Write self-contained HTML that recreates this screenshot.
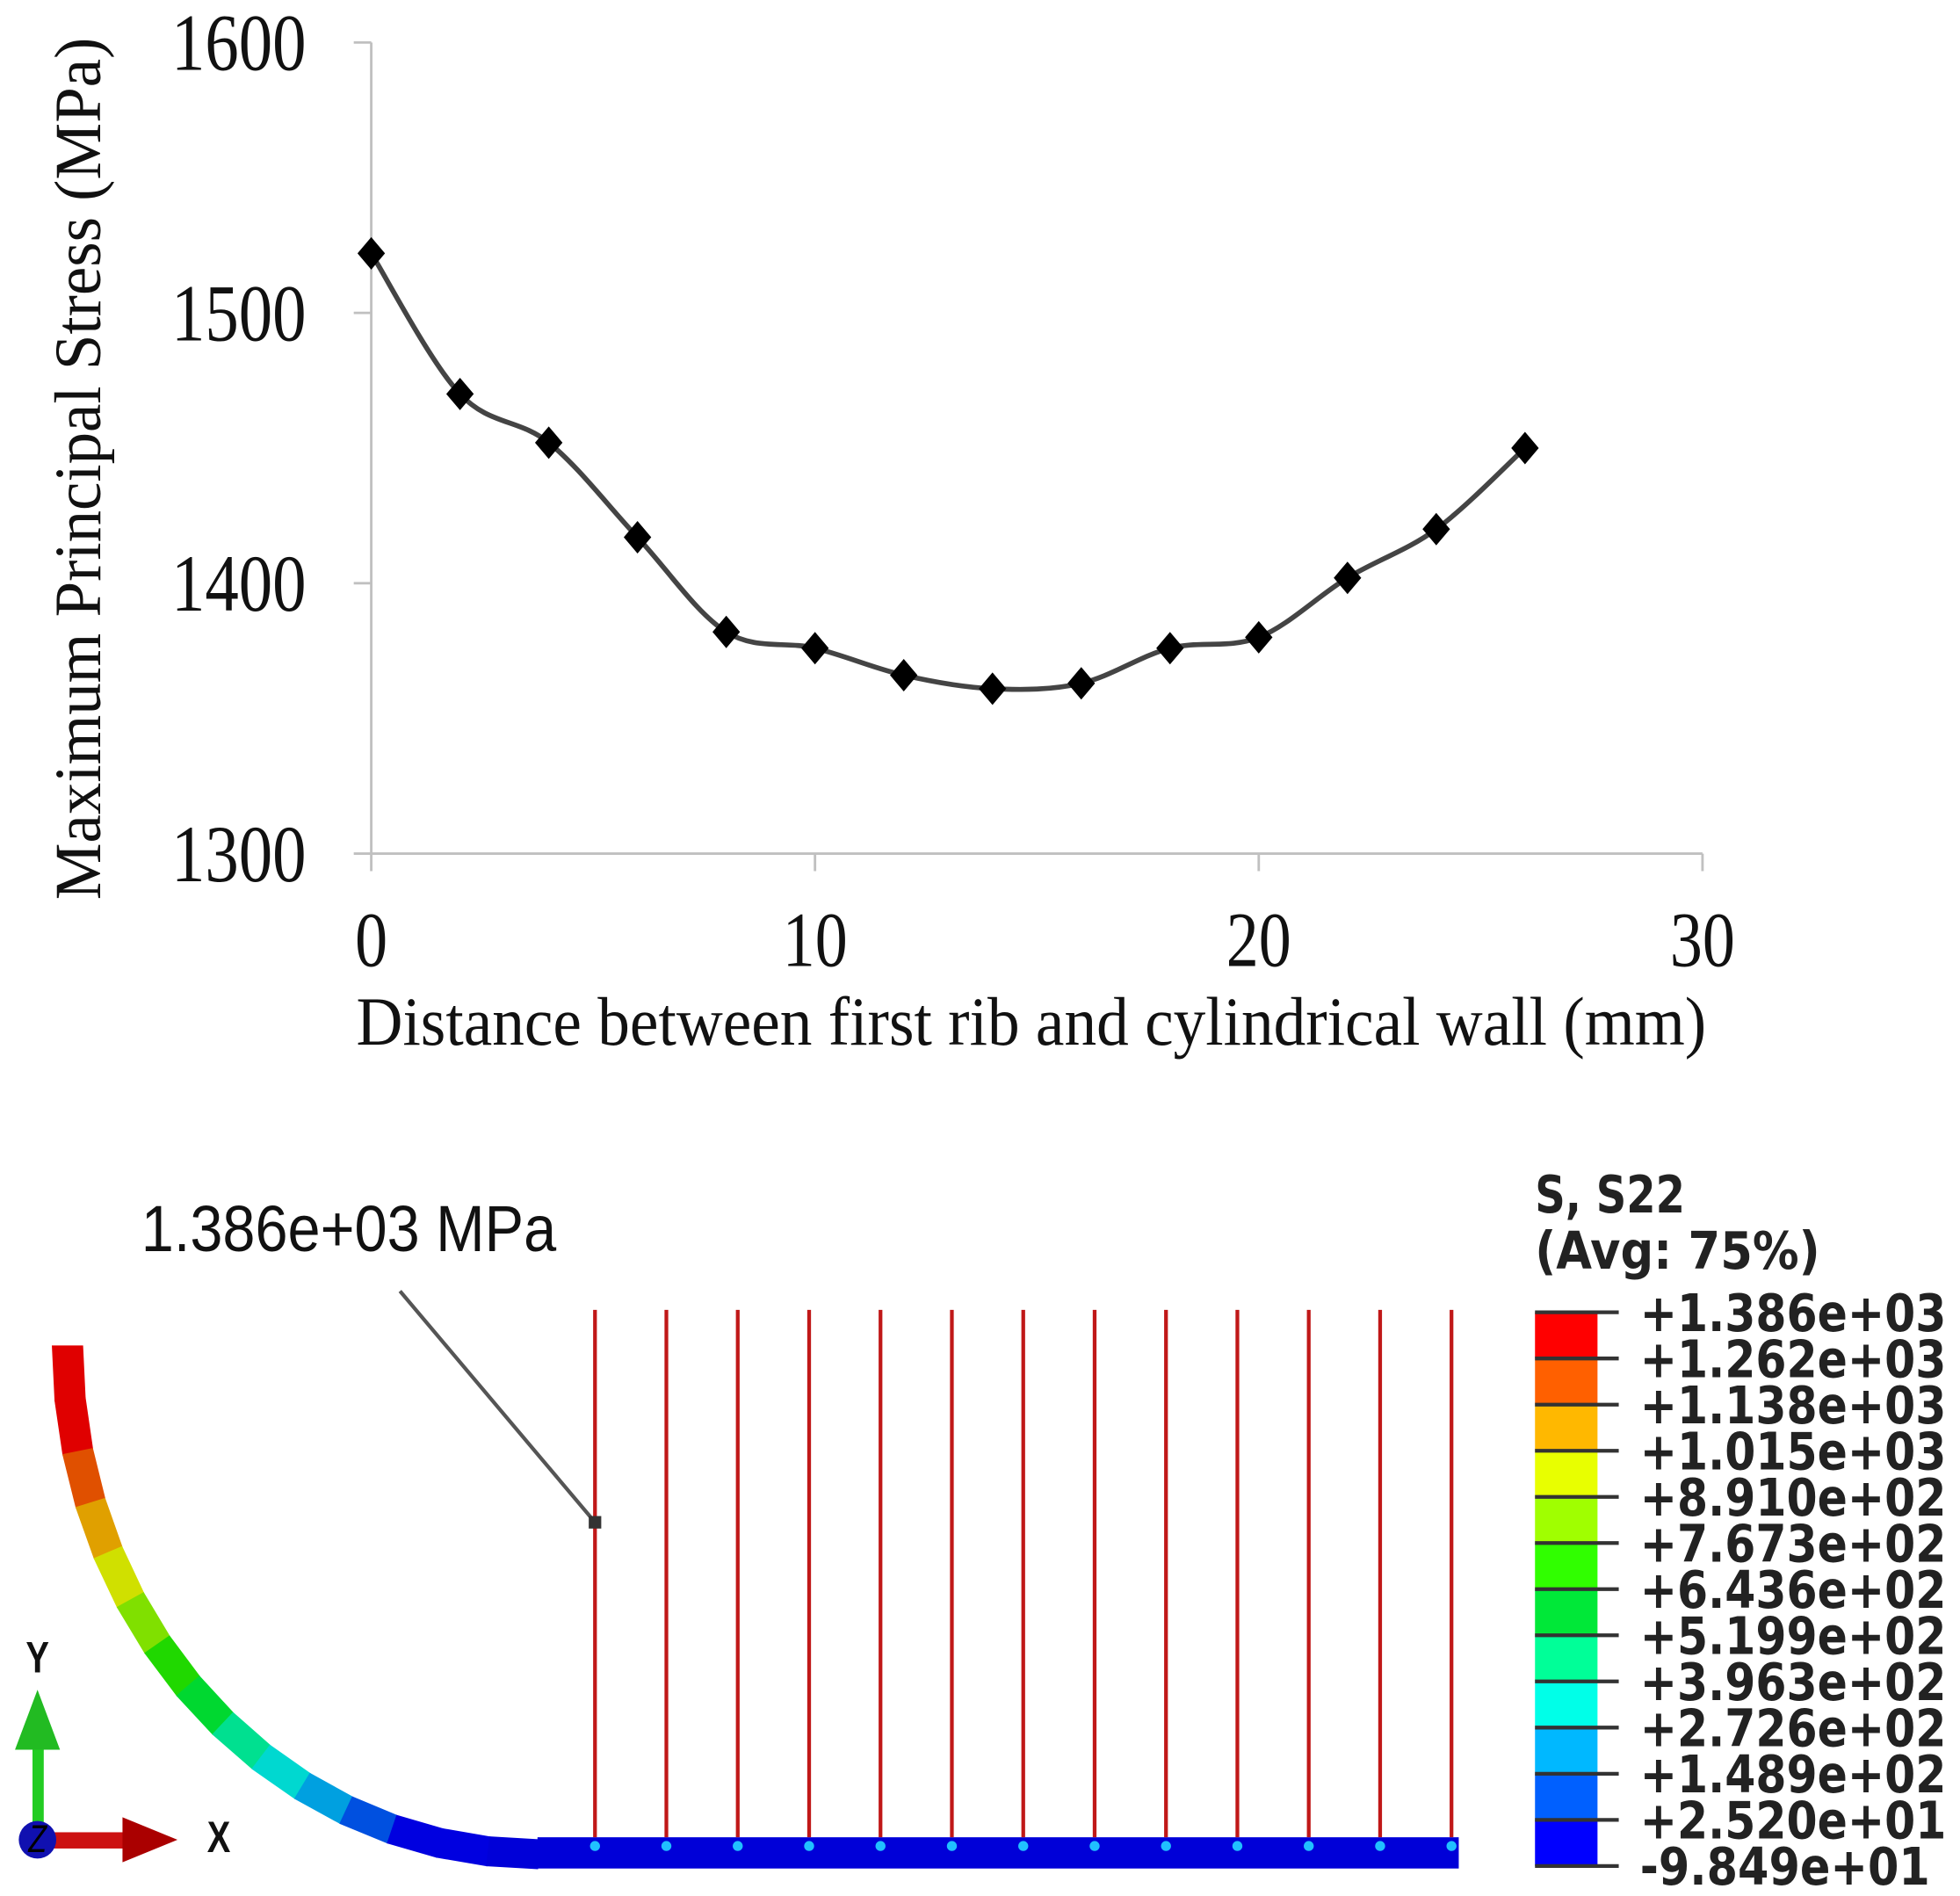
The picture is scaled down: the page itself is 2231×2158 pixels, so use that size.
<!DOCTYPE html>
<html><head><meta charset="utf-8"><style>
html,body{margin:0;padding:0;background:#fff}
svg{display:block}
</style></head><body>
<svg id="fig" width="2231" height="2158" viewBox="0 0 1568 1517" preserveAspectRatio="none" xmlns="http://www.w3.org/2000/svg">
<g id="chart"></g>
<g id="model"></g>
<g id="legend"></g>
</svg>
<script>
const xValues = [0,2,4,6,8,10,12,14,16,18,20,22,24,26];
const stressValues = [1522,1470,1452,1417,1382,1376,1366,1361,1363,1376,1380,1402,1420,1450];
const xTicks = [0,10,20,30];
const yTicks = [1300,1400,1500,1600];
const legendLabels = ["+1.386e+03","+1.262e+03","+1.138e+03","+1.015e+03","+8.910e+02","+7.673e+02","+6.436e+02","+5.199e+02","+3.963e+02","+2.726e+02","+1.489e+02","+2.520e+01","-9.849e+01"];
const bandColors = ["#ff0000","#ff6000","#ffb800","#e8ff00","#a0ff00","#30ff00","#00e838","#00ff98","#00ffe8","#00b8ff","#0060ff","#0000ff"];

const NS="http://www.w3.org/2000/svg";
function mk(parent,tag,attrs,text){const el=document.createElementNS(NS,tag);for(const k in attrs)el.setAttribute(k,attrs[k]);if(text!==undefined)el.textContent=text;parent.appendChild(el);return el;}
function stretched(parent,x,y,sy_,attrs,text){attrs.x=0;attrs.y=0;attrs.transform=`translate(${x},${y}) scale(1,${sy_})`;return mk(parent,'text',attrs,text);}
const sx=v=>297+(v-0)/30*(1362-297);
const sy=v=>683-(v-1300)/300*(683-34);
const chart=document.getElementById('chart');
const serif='"Liberation Serif",serif', sans='"Liberation Sans","DejaVu Sans",sans-serif';

let e=mk(chart,'line',{x1:297,y1:34,x2:297,y2:683,stroke:'#c0c0c0','stroke-width':2});


e=mk(chart,'line',{x1:297,y1:683,x2:1362,y2:683,stroke:'#c0c0c0','stroke-width':2});


yTicks.forEach(t=>{
  const l=mk(chart,'line',{x1:283,y1:sy(t),x2:297,y2:sy(t),stroke:'#c0c0c0','stroke-width':2});
  
  
  const tx=stretched(chart,245,sy(t)+22,1.2,{'text-anchor':'end','font-family':serif,'font-size':54,fill:'#111'},String(t));
  
  
});
xTicks.forEach(t=>{
  const l=mk(chart,'line',{x1:sx(t),y1:683,x2:sx(t),y2:697,stroke:'#c0c0c0','stroke-width':2});
  
  
  const tx=stretched(chart,sx(t),773,1.2,{'text-anchor':'middle','font-family':serif,'font-size':52,fill:'#111'},String(t));
  
  
});
e=stretched(chart,825,836,1.15,{'text-anchor':'middle','font-family':serif,'font-size':48,fill:'#111',textLength:1080,lengthAdjust:'spacingAndGlyphs'},'Distance between first rib and cylindrical wall (mm)');


e=mk(chart,'text',{x:0,y:0,transform:'translate(80,375) rotate(-90) scale(1,1.1)','text-anchor':'middle','font-family':serif,'font-size':48,fill:'#111',textLength:690,lengthAdjust:'spacingAndGlyphs'},'Maximum Principal Stress (MPa)');



const pts=xValues.map((x,i)=>[sx(x),sy(stressValues[i])]);
let d=`M${pts[0][0]},${pts[0][1]}`;
for(let i=0;i<pts.length-1;i++){
  const p0=pts[Math.max(0,i-1)],p1=pts[i],p2=pts[i+1],p3=pts[Math.min(pts.length-1,i+2)];
  const c1=[p1[0]+(p2[0]-p0[0])/6,p1[1]+(p2[1]-p0[1])/6];
  const c2=[p2[0]-(p3[0]-p1[0])/6,p2[1]-(p3[1]-p1[1])/6];
  d+=` C${c1[0]},${c1[1]} ${c2[0]},${c2[1]} ${p2[0]},${p2[1]}`;
}
e=mk(chart,'path',{d:d,fill:'none',stroke:'#444','stroke-width':4});


pts.forEach(p=>{
  const m=mk(chart,'polygon',{points:`${p[0]},${p[1]-13} ${p[0]+11},${p[1]} ${p[0]},${p[1]+13} ${p[0]-11},${p[1]}`,fill:'#000'});
  
  
});

const model=document.getElementById('model');
const cx=430,cy=1077;
const arcColors=["#e00000","#e00000","#e05000","#e0a000","#d0e000","#80e000","#20d800","#00d830","#00e090","#00d8d0","#00a0e0","#0050e0","#0000e0","#0000e0","#0000d8"];
const N=arcColors.length;
for(let i=0;i<N;i++){
  const a0=i/N*Math.PI/2,a1=(i+1)/N*Math.PI/2;
  const f=(a,rx,ry)=>[cx-rx*Math.cos(a),cy+ry*Math.sin(a)];
  const ps=[f(a0,388,418),f(a1,388,418),f(a1,364,395),f(a0,364,395)];
  const pg=mk(model,'polygon',{points:ps.map(p=>p.join(',')).join(' '),fill:arcColors[i],stroke:arcColors[i],'stroke-width':1});
  
  
}
e=mk(model,'rect',{x:430,y:1470,width:737,height:25,fill:'#0000d8'});


for(let i=0;i<13;i++){
  const x=476+i*57.1;
  const r=mk(model,'line',{x1:x,y1:1048,x2:x,y2:1470,stroke:'#c01818','stroke-width':3});
  
  
  const dt=mk(model,'circle',{cx:x,cy:1477,r:4,fill:'#20c0ff'});
  
  
}
e=mk(model,'line',{x1:320,y1:1033,x2:476,y2:1218,stroke:'#555','stroke-width':3});


e=mk(model,'rect',{x:471,y:1213,width:10,height:10,fill:'#333'});


e=stretched(model,113,1001,1.25,{'font-family':sans,'font-size':42,fill:'#111',textLength:332,lengthAdjust:'spacingAndGlyphs'},'1.386e+03 MPa');


e=mk(model,'rect',{x:26,y:1395,width:9,height:70,fill:'#22cc22'});


e=mk(model,'polygon',{points:'12,1400 30,1352 48,1400',fill:'#22bb22'});


e=mk(model,'rect',{x:40,y:1466,width:60,height:13,fill:'#cc1111'});


e=mk(model,'polygon',{points:'98,1454 142,1472 98,1490',fill:'#aa0000'});


e=mk(model,'circle',{cx:30,cy:1472,r:15,fill:'#1010b0'});


e=stretched(model,30,1482,1.3,{'text-anchor':'middle','font-family':sans,'font-size':24,'font-style':'italic',fill:'#000'},'Z');


e=stretched(model,30,1338,1.25,{'text-anchor':'middle','font-family':sans,'font-size':28,'font-weight':'bold',fill:'#111'},'Y');


e=stretched(model,175,1482,1.25,{'text-anchor':'middle','font-family':sans,'font-size':28,'font-weight':'bold',fill:'#111'},'X');



const lg=document.getElementById('legend');
e=stretched(lg,1228,970,1.3,{'font-family':'"DejaVu Sans",sans-serif','font-weight':'bold','font-size':32,fill:'#222',textLength:120,lengthAdjust:'spacingAndGlyphs'},'S, S22');


e=stretched(lg,1228,1015,1.3,{'font-family':'"DejaVu Sans",sans-serif','font-weight':'bold','font-size':32,fill:'#222',textLength:228,lengthAdjust:'spacingAndGlyphs'},'(Avg: 75%)');


const barTop=1050,bh=(1493-1050)/bandColors.length;
bandColors.forEach((c,i)=>{
  const r=mk(lg,'rect',{x:1228,y:barTop+i*bh,width:50,height:bh,fill:c});
  
  
});
legendLabels.forEach((t,i)=>{
  const y=barTop+i*bh;
  const l=mk(lg,'line',{x1:1228,y1:y,x2:1295,y2:y,stroke:'#333','stroke-width':3});
  
  
  const tx=stretched(lg,1312,y+15,1.3,{'font-family':'"DejaVu Sans",sans-serif','font-weight':'bold','font-size':32,fill:'#222',textLength:t[0]=='-'?232:245,lengthAdjust:'spacingAndGlyphs'},t);
  
  
});
</script>
</body></html>
